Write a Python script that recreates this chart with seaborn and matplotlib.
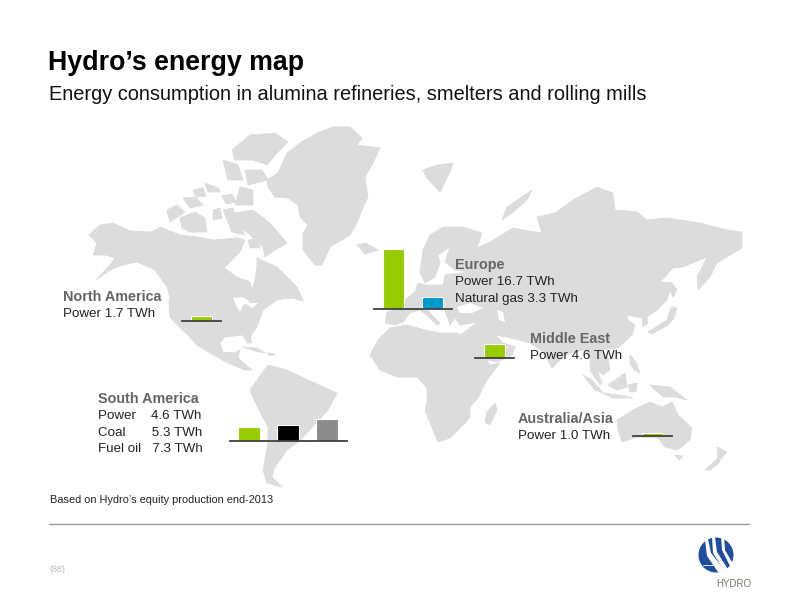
import matplotlib
matplotlib.use("Agg")
import matplotlib.pyplot as plt
from matplotlib.patches import Circle, Polygon
import pandas as pd
import seaborn as sns

# energy use by region, TWh
europe_sources = ["Power", "Natural gas"]
europe_twh = [16.7, 3.3]
south_america_sources = ["Power", "Coal", "Fuel oil"]
south_america_twh = [4.6, 5.3, 7.3]
north_america_sources = ["Power"]
north_america_twh = [1.7]
middle_east_sources = ["Power"]
middle_east_twh = [4.6]
australia_sources = ["Power"]
australia_twh = [1.0]

source_colors = {"Power": "#99cc00", "Natural gas": "#0099cc", "Coal": "#000000", "Fuel oil": "#8c8c8c"}

LAND = "#dcdcdc"

# map outlines, traced by hand in slide pixels
land = [
    # north america
    [(89,235),(100,225),(113,223),(130,231),(152,232),(160,227),(180,235),(197,237),(213,240),(237,238),(245,240),
     (240,252),(224,268),(237,277),(250,282),(252,290),(255,280),(257,265),(257,258),(277,267),(297,287),(303,301),
     (292,298),(277,300),(263,310),(257,327),(250,337),(252,343),(247,343),(243,335),(225,337),(220,343),(223,352),
     (235,353),(240,350),(238,357),(242,362),(252,370),(245,370),(228,363),(210,353),(197,345),(188,335),(180,328),
     (170,317),(169,303),(170,297),(167,287),(155,270),(137,262),(123,265),(110,270),(96,280),(110,265),(115,258),
     (105,255),(93,255),(97,243)],
    # greenland
    [(267,180),(278,173),(287,153),(300,143),(317,133),(333,127),(350,127),(362,138),(357,145),(380,148),(372,165),
     (365,177),(368,197),(363,207),(357,223),(350,235),(330,247),(322,265),(315,265),(303,250),(303,233),(308,225),
     (300,217),(298,205),(288,198),(275,197),(268,187)],
    # arctic islands
    [(232,150),(250,135),(275,133),(288,142),(277,153),(267,165),(253,160),(235,160)],
    [(223,160),(238,165),(243,180),(228,180)],
    [(245,170),(262,170),(268,180),(248,185)],
    [(240,187),(253,190),(253,205),(235,205)],
    [(205,183),(218,188),(220,192),(208,192)],
    [(222,196),(232,194),(236,202),(226,204)],
    [(193,190),(203,188),(206,196),(196,197)],
    [(235,213),(253,210),(270,223),(287,243),(275,250),(265,257),(263,247),(248,233),(237,227)],
    [(248,240),(258,238),(260,248),(250,248)],
    [(180,218),(195,212),(205,218),(207,232),(190,232),(182,228)],
    [(167,210),(177,205),(185,212),(170,222)],
    [(183,198),(195,197),(203,205),(190,208)],
    [(213,210),(220,208),(222,218),(213,220)],
    [(223,210),(233,208),(238,225),(245,235),(232,232)],
    # caribbean
    [(243,347),(257,348),(265,353),(255,351)],
    [(267,353),(275,354),(270,356)],
    # south america
    [(268,365),(250,390),(255,402),(268,427),(268,443),(263,470),(267,483),(282,487),(272,477),(275,467),(287,450),
     (297,443),(308,432),(328,410),(337,393),(328,389),(308,380),(287,370)],
    # africa
    [(370,355),(380,370),(397,377),(417,377),(427,388),(427,402),(425,410),(433,430),(438,442),(450,438),(465,423),
     (470,417),(470,407),(478,398),(487,380),(500,363),(490,365),(477,347),(467,337),(457,333),(440,333),(425,330),
     (407,325),(390,328),(378,340)],
    [(495,403),(497,410),(490,425),(485,422),(487,412)],
    # eurasia
    [(387,312),(385,323),(395,325),(403,322),(410,313),(420,310),(428,316),(437,325),(440,323),(430,313),(427,307),
     (445,310),(450,325),(455,318),(460,325),(478,322),(467,330),(462,334),(467,338),(475,357),(497,362),(512,355),
     (515,347),(503,343),(495,335),(507,337),(530,343),(543,352),(552,368),(558,362),(565,355),(583,350),(590,358),
     (590,370),(600,385),(602,383),(597,370),(603,375),(610,370),(608,358),(600,350),(618,348),(632,335),(635,325),
     (628,320),(627,315),(637,317),(642,318),(643,327),(648,323),(647,317),(657,310),(667,300),(670,290),(672,283),
     (660,282),(673,268),(683,267),(707,257),(697,277),(698,290),(710,277),(717,263),(742,248),(742,232),(727,230),
     (700,223),(667,218),(647,220),(637,212),(615,210),(613,193),(597,187),(573,200),(555,213),(537,217),(542,233),
     (523,230),(513,228),(490,242),(477,248),(482,233),(463,227),(443,227),(430,235),(423,250),(420,272),(425,283),
     (435,277),(440,263),(438,255),(450,247),(445,262),(455,270),(470,272),(445,275),(443,285),(425,285),(418,283),
     (415,292),(405,300),(395,310)],
    [(357,245),(366,243),(378,250),(365,254)],
    [(423,170),(437,165),(453,163),(450,172),(440,192),(427,178)],
    [(532,190),(507,207),(502,220),(512,213),(527,200)],
    [(672,283),(677,290),(673,297),(670,290)],
    [(648,332),(667,320),(670,310),(672,307),(677,308),(674,318),(668,325),(652,334)],
    [(630,355),(636,362),(640,373),(634,370),(630,363)],
    [(583,375),(592,380),(603,393),(595,390)],
    [(603,393),(620,395),(633,398),(612,398)],
    [(608,385),(625,373),(627,387),(617,390)],
    [(628,385),(637,383),(636,392),(630,392)],
    [(650,385),(670,387),(687,400),(675,397),(663,397),(653,388)],
    # australia and new zealand
    [(617,420),(633,410),(650,402),(662,407),(672,402),(678,415),(692,428),(690,440),(677,450),(665,447),(658,438),
     (637,437),(622,442),(618,430)],
    [(675,455),(683,456),(679,460)],
    [(717,447),(727,452),(718,462)],
    [(718,458),(705,470),(710,470),(720,462)],
]

# inland water
water = [
    [(457,307),(470,303),(483,308),(472,313),(460,313)],
    [(497,310),(503,312),(505,322),(499,320)],
    [(233,298),(243,297),(250,302),(243,305),(240,312),(236,305)],
    [(245,303),(258,303),(252,308)],
]

fig = plt.figure(figsize=(8, 6), dpi=100)
sns.set_theme(style="white")
plt.rcParams["font.family"] = ["Liberation Sans", "DejaVu Sans"]

page = fig.add_axes([0, 0, 1, 1])
page.set_xlim(0, 800)
page.set_ylim(600, 0)
page.axis("off")

for shape in land:
    page.add_patch(Polygon(shape, closed=True, facecolor=LAND, edgecolor=LAND, lw=0.6, joinstyle="round"))
for shape in water:
    page.add_patch(Polygon(shape, closed=True, facecolor="white", edgecolor="none"))


def draw_bars(sources, twh, left, base, px_per_twh):
    # every source gets a 39 px slot, axis line is the bottom spine
    width = 39 * len(sources)
    top = 70
    ax = fig.add_axes([left / 800, (600 - base) / 600, width / 800, top / 600])
    ax.patch.set_alpha(0)
    df = pd.DataFrame({"source": sources, "twh": twh})
    sns.barplot(data=df, x="source", y="twh", hue="source", palette=source_colors, legend=False,
                width=0.55, edgecolor="white", linewidth=0.8, saturation=1, ax=ax)
    ax.set_xlim(-0.5, len(sources) - 0.5)
    ax.set_ylim(0, top / px_per_twh)
    ax.set_xlabel("")
    ax.set_ylabel("")
    ax.set_xticks([])
    ax.set_yticks([])
    sns.despine(ax=ax, left=True)
    ax.spines["bottom"].set_color("#404040")
    ax.spines["bottom"].set_linewidth(1.3)


draw_bars(europe_sources, europe_twh, 374, 309, 3.6)
draw_bars(south_america_sources, south_america_twh, 229.5, 441, 3.0)
draw_bars(north_america_sources, north_america_twh, 182, 321, 3.0)
draw_bars(middle_east_sources, middle_east_twh, 475, 358, 3.0)
draw_bars(australia_sources, australia_twh, 633, 436, 3.0)

# titles
page.text(48, 70, "Hydro’s energy map", fontsize=19.3, fontweight="bold", color="black")
page.text(49, 100, "Energy consumption in alumina refineries, smelters and rolling mills", fontsize=14.43, color="#111111")


def region_label(x, y, name, rows):
    page.text(x, y, name, fontsize=10.4, fontweight="bold", color="#666666")
    for i, row in enumerate(rows):
        page.text(x, y + 16.3 * (i + 1), row, fontsize=9.6, color="#222222")


region_label(455, 269, "Europe", ["Power 16.7 TWh", "Natural gas 3.3 TWh"])
region_label(63, 301, "North America", ["Power 1.7 TWh"])
region_label(530, 343, "Middle East", ["Power 4.6 TWh"])
region_label(518, 423, "Australia/Asia", ["Power 1.0 TWh"])
region_label(98, 403, "South America", ["Power    4.6 TWh", "Coal       5.3 TWh", "Fuel oil   7.3 TWh"])

page.text(50, 503, "Based on Hydro’s equity production end-2013", fontsize=7.95, color="#222222")
page.plot([49, 749], [524, 524], color="#999999", lw=1.0)
page.text(50, 572, "(88)", fontsize=6.5, color="#bbbbbb")

# logo
page.add_patch(Circle((716, 555), 17.5, facecolor="#1f4e9c", edgecolor="none"))
for stripe in ([(705, 540), (708, 539), (711, 553), (726, 572), (718, 572), (707, 556)],
               [(712, 537), (715, 537), (717, 552), (729, 571), (725, 572), (713, 553)],
               [(721, 536), (724, 536), (725, 550), (733, 564), (731, 568), (722, 550)]):
    page.add_patch(Polygon(stripe, closed=True, facecolor="white", edgecolor="none"))
page.plot([703, 715], [565, 565], color="white", lw=0.6)
page.text(716, 587, "HYDRO", fontsize=7, color="#7d766a")

fig.savefig("out.png", dpi=100)
